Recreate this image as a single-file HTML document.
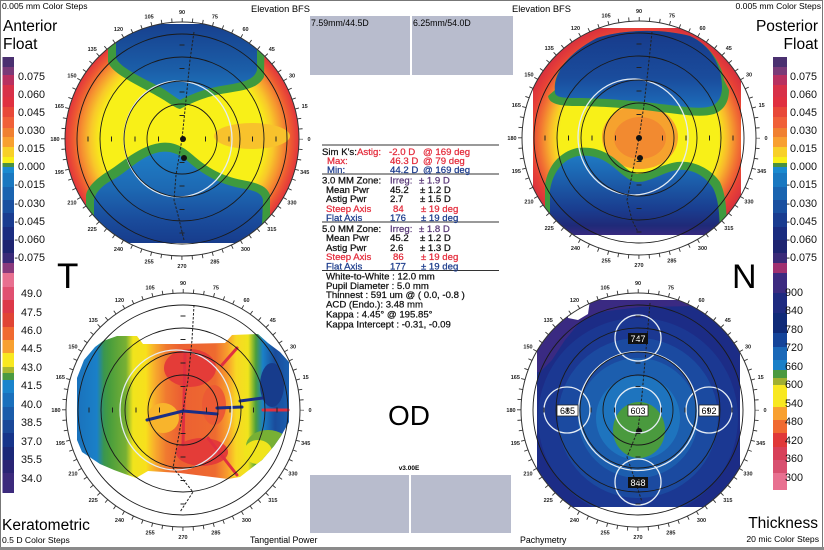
<!DOCTYPE html>
<html><head><meta charset="utf-8">
<style>
html,body{margin:0;padding:0;background:#fff;}
svg{display:block}
text{font-family:"Liberation Sans",Arial,sans-serif;}
.bc{fill:none;stroke:#1a1a1a;stroke-width:0.9}
.oc{fill:none;stroke:#333;stroke-width:1}
.ax{stroke:#222;stroke-width:1;fill:none}
.tk{fill:none;stroke:#333;stroke-width:4;stroke-dasharray:0.9 9.4847;stroke-dashoffset:0.45}
.tl text{font-size:5.5px;font-weight:bold;text-anchor:middle;fill:#222}
.ct text{font-size:9.6px;fill:#111;stroke:#111;stroke-width:0.25}
.ct text.r{fill:#e42c3c;stroke:#e42c3c}
.ct text.b{fill:#1c3c8c;stroke:#1c3c8c}
.ct text.p{fill:#5a3a78;stroke:#5a3a78}
.lg text{font-size:10.8px;fill:#111}
.wc{fill:none;stroke:#e4ecf4;stroke-width:1.3}
.ch{fill:none;stroke:#222;stroke-width:1;stroke-dasharray:2.5 1.5}
</style></head><body>
<svg width="824" height="550" viewBox="0 0 824 550" xmlns="http://www.w3.org/2000/svg">
<defs>
<clipPath id="cTL"><circle cx="182" cy="139" r="117"/></clipPath>
<clipPath id="cTLr"><rect x="0" y="24" width="824" height="219"/></clipPath>
<clipPath id="cTR"><circle cx="639" cy="138" r="117"/></clipPath>
<clipPath id="cTRr"><rect x="533" y="28" width="208" height="207"/></clipPath>
<clipPath id="cBL"><circle cx="183" cy="410" r="117"/></clipPath>
<clipPath id="cBLp"><polygon points="103,341 117,336 137,336 143,344 180,344 225,343 232,335 258,334 268,343 280,352 289,362 289,422 281,436 274,446 262,460 240,477 228,479 180,473 148,471 136,478 114,470 100,464 82,452 77,440 77,378 84,360 95,347"/></clipPath>
<clipPath id="cBR"><circle cx="638" cy="410" r="117"/></clipPath>
<clipPath id="cBRr"><rect x="537" y="300" width="203" height="207"/></clipPath>

<radialGradient id="rgTL" cx="182" cy="139" r="117" gradientUnits="userSpaceOnUse">
<stop offset="0" stop-color="#f8f018"/><stop offset="0.70" stop-color="#f8f018"/>
<stop offset="0.78" stop-color="#f8c82a"/><stop offset="0.86" stop-color="#f59030"/>
<stop offset="0.93" stop-color="#ee5a32"/><stop offset="1" stop-color="#e2343c"/>
</radialGradient>
<radialGradient id="rgTR" cx="639" cy="138" r="117" gradientUnits="userSpaceOnUse">
<stop offset="0" stop-color="#f8f018"/><stop offset="0.68" stop-color="#f8f018"/>
<stop offset="0.76" stop-color="#f8b82c"/><stop offset="0.84" stop-color="#f27832"/>
<stop offset="0.92" stop-color="#e84236"/><stop offset="1" stop-color="#d8303e"/>
</radialGradient>
<linearGradient id="gTLt" x1="0" y1="24" x2="0" y2="100" gradientUnits="userSpaceOnUse">
<stop offset="0" stop-color="#17408e"/><stop offset="0.6" stop-color="#1b5ea8"/><stop offset="1" stop-color="#1f7cc4"/>
</linearGradient>
<linearGradient id="gTLb" x1="0" y1="150" x2="0" y2="243" gradientUnits="userSpaceOnUse">
<stop offset="0" stop-color="#1f80c8"/><stop offset="0.4" stop-color="#1d6ab4"/><stop offset="0.75" stop-color="#1a4c9c"/><stop offset="1" stop-color="#173c8c"/>
</linearGradient>
<linearGradient id="gTRt" x1="0" y1="30" x2="0" y2="110" gradientUnits="userSpaceOnUse">
<stop offset="0" stop-color="#173a8a"/><stop offset="0.6" stop-color="#1a4c9c"/><stop offset="0.85" stop-color="#1c62b0"/><stop offset="1" stop-color="#1e74bc"/>
</linearGradient>
<linearGradient id="gTRb" x1="0" y1="150" x2="0" y2="236" gradientUnits="userSpaceOnUse">
<stop offset="0" stop-color="#1f80c8"/><stop offset="0.3" stop-color="#1c64b0"/><stop offset="0.7" stop-color="#1a3c8e"/><stop offset="0.88" stop-color="#1f2a78"/><stop offset="1" stop-color="#3a2a80"/>
</linearGradient>
<linearGradient id="gBL" x1="77" y1="0" x2="289" y2="0" gradientUnits="userSpaceOnUse">
<stop offset="0" stop-color="#1a72bc"/><stop offset="0.094" stop-color="#1a80c8"/>
<stop offset="0.127" stop-color="#3a9650"/><stop offset="0.156" stop-color="#4a9e3c"/>
<stop offset="0.231" stop-color="#78b034"/><stop offset="0.264" stop-color="#f0e41c"/>
<stop offset="0.325" stop-color="#f8e01c"/><stop offset="0.363" stop-color="#f8b02c"/>
<stop offset="0.420" stop-color="#f07a30"/><stop offset="0.486" stop-color="#ec6032"/>
<stop offset="0.651" stop-color="#ee6a30"/><stop offset="0.712" stop-color="#f8a02c"/>
<stop offset="0.750" stop-color="#f8d824"/><stop offset="0.807" stop-color="#f0e41c"/>
<stop offset="0.844" stop-color="#4a9e3c"/><stop offset="0.877" stop-color="#1a80c8"/>
<stop offset="0.934" stop-color="#1a4c9c"/><stop offset="1" stop-color="#1a60b0"/>
</linearGradient>
</defs>

<!-- frame -->
<rect x="0.5" y="0.5" width="822" height="547" fill="none" stroke="#777" stroke-width="1"/>
<rect x="0" y="547" width="824" height="3" fill="#8a8a8a"/>

<!-- ===== Legends ===== -->
<g>
<rect x="2.5" y="57" width="11.5" height="10" fill="#4a3070"/>
<rect x="2.5" y="67" width="11.5" height="8" fill="#7a3a78"/>
<rect x="2.5" y="75" width="11.5" height="10" fill="#b83060"/>
<rect x="2.5" y="85" width="11.5" height="12" fill="#d83048"/>
<rect x="2.5" y="97" width="11.5" height="10" fill="#e03040"/>
<rect x="2.5" y="107" width="11.5" height="10" fill="#e84838"/>
<rect x="2.5" y="117" width="11.5" height="11" fill="#f06038"/>
<rect x="2.5" y="128" width="11.5" height="9" fill="#f08030"/>
<rect x="2.5" y="137" width="11.5" height="10" fill="#f8a030"/>
<rect x="2.5" y="147" width="11.5" height="10" fill="#f8d028"/>
<rect x="2.5" y="157" width="11.5" height="6" fill="#f8f018"/>
<rect x="2.5" y="163" width="11.5" height="4" fill="#4a9040"/>
<rect x="2.5" y="167" width="11.5" height="6" fill="#1a8ad0"/>
<rect x="2.5" y="173" width="11.5" height="14" fill="#1a78c0"/>
<rect x="2.5" y="187" width="11.5" height="13" fill="#1a64b0"/>
<rect x="2.5" y="200" width="11.5" height="13" fill="#1a50a0"/>
<rect x="2.5" y="213" width="11.5" height="14" fill="#1a3c90"/>
<rect x="2.5" y="227" width="11.5" height="13" fill="#1a2c80"/>
<rect x="2.5" y="240" width="11.5" height="13" fill="#1e2470"/>
<rect x="2.5" y="253" width="11.5" height="10" fill="#3a2a78"/>
<rect x="2.5" y="263" width="11.5" height="10" fill="#8a3a7c"/>
<rect x="2.5" y="273" width="11.5" height="14" fill="#e87090"/>
<rect x="2.5" y="287" width="11.5" height="13" fill="#e05070"/>
<rect x="2.5" y="300" width="11.5" height="13" fill="#dc3848"/>
<rect x="2.5" y="313" width="11.5" height="14" fill="#e04434"/>
<rect x="2.5" y="327" width="11.5" height="13" fill="#f06a30"/>
<rect x="2.5" y="340" width="11.5" height="13" fill="#f8a030"/>
<rect x="2.5" y="353" width="11.5" height="14" fill="#f8e820"/>
<rect x="2.5" y="367" width="11.5" height="6" fill="#a8b830"/>
<rect x="2.5" y="373" width="11.5" height="7" fill="#4a9a40"/>
<rect x="2.5" y="380" width="11.5" height="13" fill="#1a84cc"/>
<rect x="2.5" y="393" width="11.5" height="14" fill="#1a70bc"/>
<rect x="2.5" y="407" width="11.5" height="13" fill="#1a5caa"/>
<rect x="2.5" y="420" width="11.5" height="13" fill="#1a4898"/>
<rect x="2.5" y="433" width="11.5" height="14" fill="#16348a"/>
<rect x="2.5" y="447" width="11.5" height="13" fill="#1a2878"/>
<rect x="2.5" y="460" width="11.5" height="13" fill="#2a2474"/>
<rect x="2.5" y="473" width="11.5" height="20" fill="#3c2a7c"/>
</g>
<g>
<rect x="773" y="57" width="14" height="10" fill="#4a3070"/>
<rect x="773" y="67" width="14" height="8" fill="#7a3a78"/>
<rect x="773" y="75" width="14" height="10" fill="#b83060"/>
<rect x="773" y="85" width="14" height="12" fill="#d83048"/>
<rect x="773" y="97" width="14" height="10" fill="#e03040"/>
<rect x="773" y="107" width="14" height="10" fill="#e84838"/>
<rect x="773" y="117" width="14" height="11" fill="#f06038"/>
<rect x="773" y="128" width="14" height="9" fill="#f08030"/>
<rect x="773" y="137" width="14" height="10" fill="#f8a030"/>
<rect x="773" y="147" width="14" height="10" fill="#f8d028"/>
<rect x="773" y="157" width="14" height="6" fill="#f8f018"/>
<rect x="773" y="163" width="14" height="4" fill="#4a9040"/>
<rect x="773" y="167" width="14" height="6" fill="#1a8ad0"/>
<rect x="773" y="173" width="14" height="14" fill="#1a78c0"/>
<rect x="773" y="187" width="14" height="13" fill="#1a64b0"/>
<rect x="773" y="200" width="14" height="13" fill="#1a50a0"/>
<rect x="773" y="213" width="14" height="14" fill="#1a3c90"/>
<rect x="773" y="227" width="14" height="13" fill="#1a2c80"/>
<rect x="773" y="240" width="14" height="13" fill="#1e2470"/>
<rect x="773" y="253" width="14" height="10" fill="#3a2a78"/>
<rect x="773" y="263" width="14" height="10" fill="#a03070"/>
<rect x="773" y="273" width="14" height="20" fill="#3c2a80"/>
<rect x="773" y="293" width="14" height="20" fill="#1e2a80"/>
<rect x="773" y="313" width="14" height="20" fill="#0f2a78"/>
<rect x="773" y="333" width="14" height="14" fill="#14449a"/>
<rect x="773" y="347" width="14" height="13" fill="#1a68b8"/>
<rect x="773" y="360" width="14" height="10" fill="#1a80c8"/>
<rect x="773" y="370" width="14" height="8" fill="#4a9a40"/>
<rect x="773" y="378" width="14" height="7" fill="#a0b030"/>
<rect x="773" y="385" width="14" height="22" fill="#f8e820"/>
<rect x="773" y="407" width="14" height="13" fill="#f8a030"/>
<rect x="773" y="420" width="14" height="13" fill="#f06a30"/>
<rect x="773" y="433" width="14" height="14" fill="#e03838"/>
<rect x="773" y="447" width="14" height="13" fill="#d84058"/>
<rect x="773" y="460" width="14" height="13" fill="#d85070"/>
<rect x="773" y="473" width="14" height="17" fill="#e87090"/>
</g>

<g class="lg" text-anchor="end">
<text x="45" y="80">0.075</text><text x="45" y="98">0.060</text><text x="45" y="116">0.045</text>
<text x="45" y="134">0.030</text><text x="45" y="152">0.015</text><text x="45" y="170">0.000</text>
<text x="45" y="188">-0.015</text><text x="45" y="207">-0.030</text><text x="45" y="225">-0.045</text>
<text x="45" y="243">-0.060</text><text x="45" y="261">-0.075</text>
<text x="42" y="297">49.0</text><text x="42" y="316">47.5</text><text x="42" y="334">46.0</text>
<text x="42" y="352">44.5</text><text x="42" y="371">43.0</text><text x="42" y="389">41.5</text>
<text x="42" y="408">40.0</text><text x="42" y="426">38.5</text><text x="42" y="445">37.0</text>
<text x="42" y="463">35.5</text><text x="42" y="482">34.0</text>
<text x="817" y="80">0.075</text><text x="817" y="98">0.060</text><text x="817" y="116">0.045</text>
<text x="817" y="134">0.030</text><text x="817" y="152">0.015</text><text x="817" y="170">0.000</text>
<text x="817" y="188">-0.015</text><text x="817" y="207">-0.030</text><text x="817" y="225">-0.045</text>
<text x="817" y="243">-0.060</text><text x="817" y="261">-0.075</text>
<text x="803" y="296">900</text><text x="803" y="314">840</text><text x="803" y="333">780</text>
<text x="803" y="351">720</text><text x="803" y="370">660</text><text x="803" y="388">600</text>
<text x="803" y="407">540</text><text x="803" y="425">480</text><text x="803" y="444">420</text>
<text x="803" y="462">360</text><text x="803" y="481">300</text>
</g>

<!-- ===== Corner labels ===== -->
<text x="2" y="9" font-size="8.6">0.005 mm Color Steps</text>
<text x="3" y="31" font-size="15.5">Anterior</text>
<text x="3" y="49" font-size="15.5">Float</text>
<text x="821" y="9" font-size="8.6" text-anchor="end">0.005 mm Color Steps</text>
<text x="818" y="31" font-size="15.5" text-anchor="end">Posterior</text>
<text x="818" y="49" font-size="15.5" text-anchor="end">Float</text>
<text x="251" y="12" font-size="9.3">Elevation BFS</text>
<text x="512" y="12" font-size="9.3">Elevation BFS</text>
<text x="57" y="288" font-size="35">T</text>
<text x="732" y="288" font-size="34">N</text>
<text x="2" y="530" font-size="15.5">Keratometric</text>
<text x="2" y="543" font-size="8.6">0.5 D Color Steps</text>
<text x="250" y="543" font-size="8.8">Tangential Power</text>
<text x="520" y="543" font-size="8.8">Pachymetry</text>
<text x="818" y="528" font-size="15.5" text-anchor="end">Thickness</text>
<text x="819" y="542" font-size="8.6" text-anchor="end">20 mic Color Steps</text>

<!-- gray boxes -->
<rect x="310" y="16" width="100" height="59" fill="#b8bccd"/>
<rect x="412" y="16" width="101" height="59" fill="#b8bccd"/>
<text x="311" y="26" font-size="8.8">7.59mm/44.5D</text>
<text x="413" y="26" font-size="8.8">6.25mm/54.0D</text>
<rect x="310" y="475" width="99" height="58" fill="#b8bccd"/>
<rect x="411" y="475" width="100" height="58" fill="#b8bccd"/>
<text x="409" y="470" font-size="6.5" font-weight="bold" text-anchor="middle">v3.00E</text>
<text x="409" y="425" font-size="28" text-anchor="middle">OD</text>

<!-- ===== Center text ===== -->
<g stroke="#333" stroke-width="1">
<line x1="322" y1="145" x2="499" y2="145"/>
<line x1="322" y1="174" x2="499" y2="174"/>
<line x1="322" y1="222" x2="499" y2="222"/>
<line x1="322" y1="270.5" x2="499" y2="270.5"/>
</g>
<g class="ct">
<text x="322" y="155">Sim K's:</text><text class="r" x="357" y="155">Astig:</text><text class="r" x="389" y="155">-2.0 D</text><text class="r" x="423" y="155">@ 169 deg</text>
<text class="r" x="327" y="164">Max:</text><text class="r" x="390" y="164">46.3 D</text><text class="r" x="423" y="164">@ 79 deg</text>
<text class="b" x="327" y="173">Min:</text><text class="b" x="390" y="173">44.2 D</text><text class="b" x="423" y="173">@ 169 deg</text>
<text x="322" y="183.5">3.0 MM Zone:</text><text class="p" x="390" y="183.5">Irreg:</text><text class="p" x="419" y="183.5">± 1.9 D</text>
<text x="326" y="193">Mean Pwr</text><text x="390" y="193">45.2</text><text x="420" y="193">± 1.2 D</text>
<text x="326" y="202">Astig Pwr</text><text x="390" y="202">2.7</text><text x="420" y="202">± 1.5 D</text>
<text class="r" x="326" y="212">Steep Axis</text><text class="r" x="393" y="212">84</text><text class="r" x="421" y="212">± 19 deg</text>
<text class="b" x="326" y="221">Flat Axis</text><text class="b" x="390" y="221">176</text><text class="b" x="421" y="221">± 19 deg</text>
<text x="322" y="232">5.0 MM Zone:</text><text class="p" x="390" y="232">Irreg:</text><text class="p" x="419" y="232">± 1.8 D</text>
<text x="326" y="241">Mean Pwr</text><text x="390" y="241">45.2</text><text x="420" y="241">± 1.2 D</text>
<text x="326" y="251">Astig Pwr</text><text x="390" y="251">2.6</text><text x="420" y="251">± 1.3 D</text>
<text class="r" x="326" y="260">Steep Axis</text><text class="r" x="393" y="260">86</text><text class="r" x="421" y="260">± 19 deg</text>
<text class="b" x="326" y="269.5">Flat Axis</text><text class="b" x="390" y="269.5">177</text><text class="b" x="421" y="269.5">± 19 deg</text>
<text x="326" y="279.5">White-to-White : 12.0 mm</text>
<text x="326" y="289">Pupil Diameter :  5.0 mm</text>
<text x="326" y="298">Thinnest : 591 um @ ( 0.0, -0.8 )</text>
<text x="326" y="307.5">ACD (Endo.): 3.48 mm</text>
<text x="326" y="317.5">Kappa : 4.45° @ 195.85°</text>
<text x="326" y="327.5">Kappa Intercept : -0.31, -0.09</text>
</g>

<!-- ===== Top-left map ===== -->
<g clip-path="url(#cTLr)"><g clip-path="url(#cTL)">
<rect x="60" y="20" width="245" height="240" fill="url(#rgTL)"/>
<ellipse cx="252" cy="136" rx="38" ry="13" fill="#f8c22c"/>
<path fill="#3e9a3e" d="M108 20 L108 62 C112 74,140 86,157 96 C168 102,175 108,180 109 C190 104,205 96,227 93 C246 90,258 88,264 77 L265 20 Z"/>
<path fill="url(#gTLt)" d="M116 20 L116 58 C120 68,145 79,162 88 C170 93,176 98,180 100 C190 95,205 88,227 85 C244 82,254 80,257 70 L257 20 Z"/>
<path fill="#3e9a3e" d="M86 260 L86 195 C88 185,100 176,110 170 C125 160,140 146,160 143 C175 141,185 148,195 157 C208 168,222 176,242 180 C258 183,267 186,270 195 L270 225 C268 232,262 238,255 245 L255 260 Z"/>
<path fill="url(#gTLb)" d="M94 260 L94 200 C96 190,106 183,116 178 C130 169,143 155,160 152 C173 150,182 156,191 164 C204 175,220 184,240 188 C254 190,262 193,263 200 L262 225 C260 232,255 237,248 244 L248 260 Z"/>
</g></g>
<ellipse class="wc" cx="178" cy="139" rx="54" ry="58"/>
<polyline class="ch" points="194,32 190,60 186,100 182,139 176,175 174,200 178,215 184,240"/>
<circle cx="183" cy="139" r="3" fill="#111"/><circle cx="184" cy="158" r="3" fill="#111"/>

<!-- ===== Top-right map ===== -->
<g clip-path="url(#cTRr)"><g clip-path="url(#cTR)">
<rect x="520" y="20" width="240" height="240" fill="url(#rgTR)"/>
<ellipse cx="640" cy="137" rx="38" ry="32" fill="#f6a22e"/>
<ellipse cx="640" cy="138" rx="26" ry="21" fill="#f28a30"/>
<path fill="#3e9a3e" d="M555 90 C553 75,565 55,597 38 C620 30,660 28,690 36 C710 45,722 65,724 80 L729 90 C729 102,724 110,714 114 C700 118,680 114,660 112 C640 109,600 106,575 106 C560 106,549 104,548 96 Z"/>
<path fill="url(#gTRt)" d="M555 93 C553 75,565 55,597 38 C620 30,660 28,690 36 C710 45,722 65,722 87 C722 97,718 103,712 106 C700 110,680 106,660 104 C640 101,600 98,575 98 C562 98,556 97,555 93 Z"/>
<path fill="#3e9a3e" d="M545 185 C548 165,560 152,577 148 C595 146,608 152,620 163 C628 170,633 174,638 174 C648 174,662 164,677 162 C695 160,712 170,720 182 C726 195,727 210,727 240 L545 240 Z"/>
<path fill="url(#gTRb)" d="M550 190 C553 172,563 159,578 156 C594 154,606 160,617 170 C626 178,632 182,638 182 C650 182,664 172,677 170 C693 168,706 177,713 188 C718 198,720 212,720 240 L550 240 Z"/>
</g></g>
<ellipse class="wc" cx="633" cy="137" rx="55" ry="58"/>
<polyline class="ch" points="652,32 648,70 644,105 639,138 632,175 627,200 632,220 638,232"/>
<circle cx="639" cy="138" r="3" fill="#111"/><circle cx="640" cy="158" r="3" fill="#111"/>

<!-- ===== Bottom-left map ===== -->
<g clip-path="url(#cBL)"><g clip-path="url(#cBLp)">
<rect x="70" y="325" width="230" height="160" fill="url(#gBL)"/>
<ellipse cx="190" cy="368" rx="26" ry="19" fill="#e43c38"/>
<ellipse cx="202" cy="452" rx="26" ry="14" fill="#e43c38"/>
<ellipse cx="214" cy="405" rx="12" ry="20" fill="#ec5a34"/>
<ellipse cx="163" cy="418" rx="16" ry="15" fill="#f8b42c"/>
<ellipse cx="268" cy="446" rx="22" ry="16" fill="#78b034"/>
<ellipse cx="258" cy="452" rx="14" ry="12" fill="#f0e41c"/>
<ellipse cx="272" cy="385" rx="12" ry="22" fill="#173c8c"/>
</g></g>
<g stroke-width="3" fill="none" stroke-linecap="round">
<polyline stroke="#e03040" points="185,353 183,445"/>
<polyline stroke="#e03040" points="222,365 237,348"/>
<polyline stroke="#e03040" points="208,438 237,475"/>
<polyline stroke="#e03040" points="263,410 288,410"/>
<polyline stroke="#1a2e86" points="147,420 183,411 217,414"/>
<polyline stroke="#1a2e86" points="217,408 242,407"/>
<polyline stroke="#1a2e86" points="240,401 263,398"/>
</g>
<ellipse class="wc" cx="176" cy="410" rx="56" ry="60"/>
<polyline class="ch" points="194,305 192,340 188,380 183,411 178,440 173,468 185,482 193,492 180,512"/>

<!-- ===== Bottom-right map ===== -->
<g clip-path="url(#cBRr)"><g clip-path="url(#cBR)">
<rect x="520" y="290" width="240" height="240" fill="#1c2c86"/>
<circle cx="638" cy="418" r="100" fill="#1b3892"/>
<circle cx="638" cy="418" r="80" fill="#1b4aa0"/>
<circle cx="638" cy="418" r="60" fill="#1c5eae"/>
<circle cx="638" cy="418" r="42" fill="#1e74be"/>
<polygon fill="#3a2a82" points="530,300 700,300 700,306 640,307 600,312 580,322 565,340 552,360 540,372 530,372"/>
<ellipse cx="639" cy="430" rx="26" ry="28" fill="#4a9a3e"/>
<polygon fill="#fff" points="568,300 590,300 588,314 578,320 568,318"/>
</g></g>
<polyline class="ch" points="650,303 646,350 642,395 638,430 627,457 635,480 642,502"/>
<circle cx="639" cy="431" r="3" fill="#111"/>
<g class="wc">
<circle cx="638" cy="411" r="59.5"/>
<circle cx="638" cy="338" r="23"/>
<circle cx="567" cy="410" r="23"/>
<circle cx="638" cy="410" r="23"/>
<circle cx="709" cy="410" r="23"/>
<circle cx="638" cy="482" r="23"/>
</g>
<g font-size="9" text-anchor="middle">
<rect x="628" y="333" width="20" height="11" fill="#111"/><text x="638" y="342" fill="#fff">747</text>
<rect x="557" y="405" width="21" height="11" fill="#fff" stroke="#222" stroke-width="0.8"/><text x="567.5" y="414">685</text>
<rect x="628" y="405" width="20" height="11" fill="#fff" stroke="#222" stroke-width="0.8"/><text x="638" y="414">603</text>
<rect x="699" y="405" width="20" height="11" fill="#fff" stroke="#222" stroke-width="0.8"/><text x="709" y="414">692</text>
<rect x="628" y="477" width="20" height="11" fill="#111"/><text x="638" y="486" fill="#fff">848</text>
</g>

<!-- ===== Dials ===== -->
<g transform="translate(182,139)">
<circle r="35" class="bc"/><circle r="58" class="bc"/><circle r="82" class="bc"/><circle r="105" class="bc"/><circle r="117" class="oc"/>
<circle r="119" class="tk"/>
<path class="ax" d="M-94 -2.5v5M-70.5 -2.5v5M-47 -2.5v5M-23.5 -2.5v5M23.5 -2.5v5M47 -2.5v5M70.5 -2.5v5M94 -2.5v5M-2.5 -94h5M-2.5 -70.5h5M-2.5 -47h5M-2.5 -23.5h5M-2.5 23.5h5M-2.5 47h5M-2.5 70.5h5M-2.5 94h5"/>
<g class="tl">
<text x="127" y="2">0</text><text x="122.7" y="-30.9">15</text><text x="110" y="-61.5">30</text><text x="89.8" y="-87.8">45</text><text x="63.5" y="-108">60</text><text x="32.9" y="-120.7">75</text><text x="0" y="-125">90</text><text x="-32.9" y="-120.7">105</text><text x="-63.5" y="-108">120</text><text x="-89.8" y="-87.8">135</text><text x="-110" y="-61.5">150</text><text x="-122.7" y="-30.9">165</text><text x="-127" y="2">180</text><text x="-122.7" y="34.9">195</text><text x="-110" y="65.5">210</text><text x="-89.8" y="91.8">225</text><text x="-63.5" y="112">240</text><text x="-32.9" y="124.7">255</text><text x="0" y="129">270</text><text x="32.9" y="124.7">285</text><text x="63.5" y="112">300</text><text x="89.8" y="91.8">315</text><text x="110" y="65.5">330</text><text x="122.7" y="34.9">345</text>
</g></g>
<g transform="translate(639,138)">
<circle r="35" class="bc"/><circle r="58" class="bc"/><circle r="82" class="bc"/><circle r="105" class="bc"/><circle r="117" class="oc"/>
<circle r="119" class="tk"/>
<path class="ax" d="M-94 -2.5v5M-70.5 -2.5v5M-47 -2.5v5M-23.5 -2.5v5M23.5 -2.5v5M47 -2.5v5M70.5 -2.5v5M94 -2.5v5M-2.5 -94h5M-2.5 -70.5h5M-2.5 -47h5M-2.5 -23.5h5M-2.5 23.5h5M-2.5 47h5M-2.5 70.5h5M-2.5 94h5"/>
<g class="tl">
<text x="127" y="2">0</text><text x="122.7" y="-30.9">15</text><text x="110" y="-61.5">30</text><text x="89.8" y="-87.8">45</text><text x="63.5" y="-108">60</text><text x="32.9" y="-120.7">75</text><text x="0" y="-125">90</text><text x="-32.9" y="-120.7">105</text><text x="-63.5" y="-108">120</text><text x="-89.8" y="-87.8">135</text><text x="-110" y="-61.5">150</text><text x="-122.7" y="-30.9">165</text><text x="-127" y="2">180</text><text x="-122.7" y="34.9">195</text><text x="-110" y="65.5">210</text><text x="-89.8" y="91.8">225</text><text x="-63.5" y="112">240</text><text x="-32.9" y="124.7">255</text><text x="0" y="129">270</text><text x="32.9" y="124.7">285</text><text x="63.5" y="112">300</text><text x="89.8" y="91.8">315</text><text x="110" y="65.5">330</text><text x="122.7" y="34.9">345</text>
</g></g>
<g transform="translate(183,410)">
<circle r="35" class="bc"/><circle r="58" class="bc"/><circle r="82" class="bc"/><circle r="105" class="bc"/><circle r="117" class="oc"/>
<circle r="119" class="tk"/>
<path class="ax" d="M-94 -2.5v5M-70.5 -2.5v5M-47 -2.5v5M-23.5 -2.5v5M23.5 -2.5v5M47 -2.5v5M70.5 -2.5v5M94 -2.5v5M-2.5 -94h5M-2.5 -70.5h5M-2.5 -47h5M-2.5 -23.5h5M-2.5 23.5h5M-2.5 47h5M-2.5 70.5h5M-2.5 94h5"/>
<g class="tl">
<text x="127" y="2">0</text><text x="122.7" y="-30.9">15</text><text x="110" y="-61.5">30</text><text x="89.8" y="-87.8">45</text><text x="63.5" y="-108">60</text><text x="32.9" y="-120.7">75</text><text x="0" y="-125">90</text><text x="-32.9" y="-120.7">105</text><text x="-63.5" y="-108">120</text><text x="-89.8" y="-87.8">135</text><text x="-110" y="-61.5">150</text><text x="-122.7" y="-30.9">165</text><text x="-127" y="2">180</text><text x="-122.7" y="34.9">195</text><text x="-110" y="65.5">210</text><text x="-89.8" y="91.8">225</text><text x="-63.5" y="112">240</text><text x="-32.9" y="124.7">255</text><text x="0" y="129">270</text><text x="32.9" y="124.7">285</text><text x="63.5" y="112">300</text><text x="89.8" y="91.8">315</text><text x="110" y="65.5">330</text><text x="122.7" y="34.9">345</text>
</g></g>
<g transform="translate(638,410)">
<circle r="35" class="bc"/><circle r="58" class="bc"/><circle r="82" class="bc"/><circle r="105" class="bc"/><circle r="117" class="oc"/>
<circle r="119" class="tk"/>
<path class="ax" d="M-94 -2.5v5M-70.5 -2.5v5M-47 -2.5v5M-23.5 -2.5v5M23.5 -2.5v5M47 -2.5v5M70.5 -2.5v5M94 -2.5v5M-2.5 -94h5M-2.5 -70.5h5M-2.5 -47h5M-2.5 -23.5h5M-2.5 23.5h5M-2.5 47h5M-2.5 70.5h5M-2.5 94h5"/>
<g class="tl">
<text x="127" y="2">0</text><text x="122.7" y="-30.9">15</text><text x="110" y="-61.5">30</text><text x="89.8" y="-87.8">45</text><text x="63.5" y="-108">60</text><text x="32.9" y="-120.7">75</text><text x="0" y="-125">90</text><text x="-32.9" y="-120.7">105</text><text x="-63.5" y="-108">120</text><text x="-89.8" y="-87.8">135</text><text x="-110" y="-61.5">150</text><text x="-122.7" y="-30.9">165</text><text x="-127" y="2">180</text><text x="-122.7" y="34.9">195</text><text x="-110" y="65.5">210</text><text x="-89.8" y="91.8">225</text><text x="-63.5" y="112">240</text><text x="-32.9" y="124.7">255</text><text x="0" y="129">270</text><text x="32.9" y="124.7">285</text><text x="63.5" y="112">300</text><text x="89.8" y="91.8">315</text><text x="110" y="65.5">330</text><text x="122.7" y="34.9">345</text>
</g></g>
</svg>
</body></html>
